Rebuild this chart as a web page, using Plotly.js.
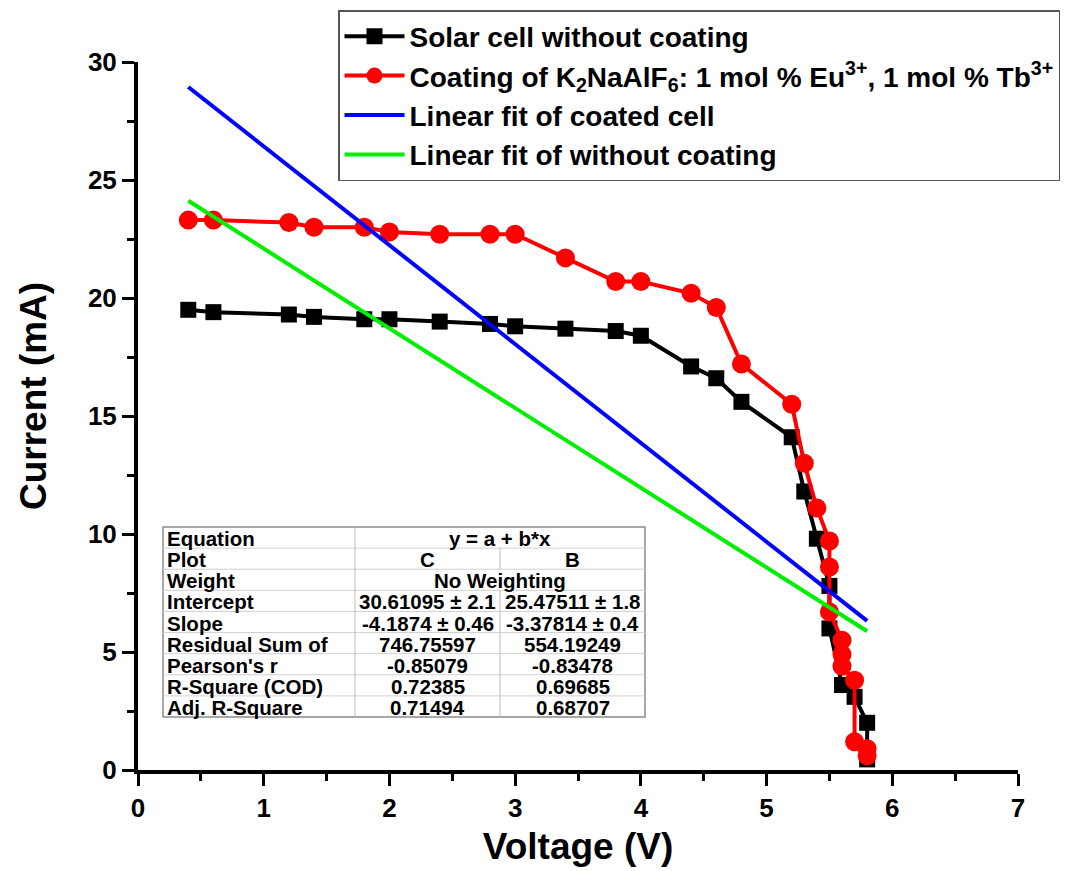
<!DOCTYPE html>
<html>
<head>
<meta charset="utf-8">
<script src="https://cdn.plot.ly/plotly-3.0.1.min.js"></script>
<style>html,body{margin:0;padding:0;background:#fff;}#chart{width:1070px;height:871px;}</style>
</head>
<body>
<div id="chart"></div>
<script>
// ---- data ----
const voltBlack = [0.4,0.6,1.2,1.4,1.8,2.0,2.4,2.8,3.0,3.4,3.8,4.0,4.4,4.6,4.8,5.2,5.3,5.4,5.5,5.5,5.6,5.7,5.8,5.8];
const currBlack = [19.5,19.4,19.3,19.2,19.1,19.1,19.0,18.9,18.8,18.7,18.6,18.4,17.1,16.6,15.6,14.1,11.8,9.8,7.8,6.0,3.6,3.1,2.0,0.45];
const voltRed = [0.4,0.6,1.2,1.4,1.8,2.0,2.4,2.8,3.0,3.4,3.8,4.0,4.4,4.6,4.8,5.2,5.3,5.4,5.5,5.5,5.5,5.6,5.6,5.6,5.7,5.7,5.8,5.8];
const currRed = [23.3,23.3,23.2,23.0,23.0,22.8,22.7,22.7,22.7,21.7,20.7,20.7,20.2,19.6,17.2,15.5,13.0,11.1,9.7,8.6,6.7,5.5,4.9,4.4,3.8,1.2,0.9,0.6];
const fitX = [0.4, 5.8];
const fitCoated = [28.94, 6.32];
const fitUncoated = [24.12, 5.88];
const seriesNames = [
  'Solar cell without coating',
  'Coating of K<sub>2</sub>NaAlF<sub>6</sub>: 1 mol % Eu<sup>3+</sup>, 1 mol % Tb<sup>3+</sup>',
  'Linear fit of coated cell',
  'Linear fit of without coating'
];
const tableLabels = ['Equation','Plot','Weight','Intercept','Slope','Residual Sum of',"Pearson's r",'R-Square (COD)','Adj. R-Square'];
const tableColC = ['y = a + b*x','C','No Weighting','30.61095 ± 2.1','-4.1874 ± 0.46','746.75597','-0.85079','0.72385','0.71494'];
const tableColB = [null,'B',null,'25.47511 ± 1.8','-3.37814 ± 0.4','554.19249','-0.83478','0.69685','0.68707'];
const xTitle = 'Voltage (V)';
const yTitle = 'Current (mA)';

// ---- layout helpers ----
const W = 1070, H = 871, ML = 138, MR = 52, MT = 62, MB = 101;
const PW = W - ML - MR, PH = H - MT - MB;
const px = x => (x - ML) / PW;
const py = y => (H - MB - y) / PH;
const FONT = 'Liberation Sans, Arial, sans-serif';

const traces = [
  {x: voltBlack, y: currBlack, name: seriesNames[0], type: 'scatter', mode: 'lines+markers',
   line: {color: '#000000', width: 4}, marker: {symbol: 'square', size: 16, color: '#000000'}, cliponaxis: false},
  {x: voltRed, y: currRed, name: seriesNames[1], type: 'scatter', mode: 'lines+markers',
   line: {color: '#ff0000', width: 4}, marker: {symbol: 'circle', size: 19, color: '#ff0000'}, cliponaxis: false},
  {x: fitX, y: fitCoated, name: seriesNames[2], type: 'scatter', mode: 'lines',
   line: {color: '#0000ff', width: 4}},
  {x: fitX, y: fitUncoated, name: seriesNames[3], type: 'scatter', mode: 'lines',
   line: {color: '#00ee00', width: 4}}
];

// ---- table (shapes + annotations) ----
const tL = 163, tC1 = 355, tC2 = 500, tR = 645, tT = 527, tB = 717;
const nRows = tableLabels.length;
const rh = (tB - tT) / nRows;
const shapes = [];
const annotations = [];
shapes.push({type: 'rect', xref: 'paper', yref: 'paper', x0: px(tL), x1: px(tR), y0: py(tB), y1: py(tT),
  line: {color: '#8a8a8a', width: 1.5}, fillcolor: 'rgba(255,255,255,0.9)', layer: 'above'});
for (let i = 1; i < nRows; i++) {
  const yy = tT + i * rh;
  shapes.push({type: 'line', xref: 'paper', yref: 'paper', x0: px(tL), x1: px(tR), y0: py(yy), y1: py(yy),
    line: {color: '#d0d0d0', width: 1}, layer: 'above'});
}
shapes.push({type: 'line', xref: 'paper', yref: 'paper', x0: px(tC1), x1: px(tC1), y0: py(tB), y1: py(tT),
  line: {color: '#bdbdbd', width: 1}, layer: 'above'});
for (let i = 0; i < nRows; i++) {
  if (tableColB[i] !== null) {
    shapes.push({type: 'line', xref: 'paper', yref: 'paper', x0: px(tC2), x1: px(tC2),
      y0: py(tT + (i + 1) * rh), y1: py(tT + i * rh), line: {color: '#bdbdbd', width: 1}, layer: 'above'});
  }
}
const tFont = {family: FONT, size: 20.5, color: '#000000', weight: 'bold'};
for (let i = 0; i < nRows; i++) {
  const yc = py(tT + (i + 0.5) * rh + 1);
  annotations.push({xref: 'paper', yref: 'paper', x: px(tL + 3), y: yc, xanchor: 'left', yanchor: 'middle',
    text: tableLabels[i], showarrow: false, font: tFont, borderpad: 0});
  if (tableColB[i] === null) {
    annotations.push({xref: 'paper', yref: 'paper', x: px((tC1 + tR) / 2), y: yc, xanchor: 'center', yanchor: 'middle',
      text: tableColC[i], showarrow: false, font: tFont, borderpad: 0});
  } else {
    annotations.push({xref: 'paper', yref: 'paper', x: px((tC1 + tC2) / 2), y: yc, xanchor: 'center', yanchor: 'middle',
      text: tableColC[i], showarrow: false, font: tFont, borderpad: 0});
    annotations.push({xref: 'paper', yref: 'paper', x: px((tC2 + tR) / 2), y: yc, xanchor: 'center', yanchor: 'middle',
      text: tableColB[i], showarrow: false, font: tFont, borderpad: 0});
  }
}
// y-axis title as annotation to match its position
annotations.push({xref: 'paper', yref: 'paper', x: px(33), y: py(396), xanchor: 'center', yanchor: 'middle',
  text: yTitle, textangle: -90, showarrow: false,
  font: {family: FONT, size: 37, color: '#000000', weight: 'bold'}});

const layout = {
  width: W, height: H,
  margin: {l: ML, r: MR, t: MT, b: MB, pad: 0, autoexpand: false},
  paper_bgcolor: '#ffffff', plot_bgcolor: '#ffffff',
  font: {family: FONT, color: '#000000'},
  showlegend: true,
  legend: {x: px(338), y: 1 + (MT - 10) / PH, xanchor: 'left', yanchor: 'top',
    bgcolor: '#ffffff', bordercolor: '#555555', borderwidth: 1.5,
    font: {family: FONT, size: 28, color: '#000000', weight: 'bold'},
    itemwidth: 60, tracegroupgap: 0},
  xaxis: {
    range: [0, 7], dtick: 1, tick0: 0, showgrid: false, zeroline: false,
    showline: true, linecolor: '#000000', linewidth: 4,
    ticks: 'outside', ticklen: 12, tickwidth: 3, tickcolor: '#000000',
    tickfont: {family: FONT, size: 26, color: '#000000', weight: 'bold'},
    minor: {dtick: 0.5, ticks: 'outside', ticklen: 7, tickwidth: 3, tickcolor: '#000000', showgrid: false},
    title: {text: xTitle, font: {family: FONT, size: 37, color: '#000000', weight: 'bold'}, standoff: 12},
    fixedrange: true
  },
  yaxis: {
    range: [0, 30], dtick: 5, tick0: 0, showgrid: false, zeroline: false,
    showline: true, linecolor: '#000000', linewidth: 4,
    ticks: 'outside', ticklen: 12, tickwidth: 3, tickcolor: '#000000',
    tickfont: {family: FONT, size: 26, color: '#000000', weight: 'bold'},
    minor: {dtick: 2.5, ticks: 'outside', ticklen: 7, tickwidth: 3, tickcolor: '#000000', showgrid: false},
    fixedrange: true
  },
  shapes: shapes,
  annotations: annotations
};

Plotly.newPlot('chart', traces, layout, {displayModeBar: false, staticPlot: true});
</script>
</body>
</html>
